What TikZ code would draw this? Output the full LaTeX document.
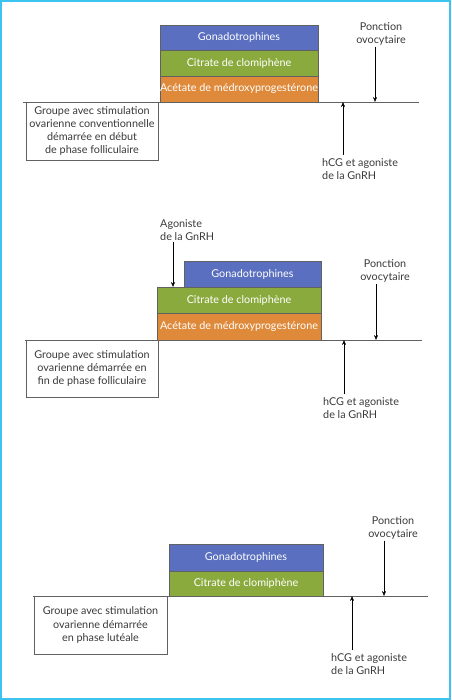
\documentclass[tikz,border=0pt]{standalone}
\usepackage{fontspec}
\setmainfont{Lato}
\usetikzlibrary{arrows.meta}
\definecolor{gonablue}{HTML}{5A6FBF}
\definecolor{clomigreen}{HTML}{8BAA3E}
\definecolor{medroorange}{HTML}{DF8A3B}
\definecolor{framecyan}{HTML}{3CC3F0}
\definecolor{inkgray}{HTML}{3A3A3A}
\begin{document}
\begin{tikzpicture}[x=1pt,y=-1pt,>={Stealth[length=5pt,width=4pt]},
  every node/.style={inner sep=1pt,text=inkgray,font=\fontsize{10.8}{13.3}\selectfont},
  drugbox/.style={draw=inkgray!80,line width=0.5pt,anchor=north west,
    text=white,inner sep=0pt,outer sep=0pt},
  groupbox/.style={draw=inkgray!80,fill=white,line width=0.6pt,align=center,
    anchor=north west,inner sep=0pt,outer sep=0pt,minimum height=58pt},
  note/.style={align=left,anchor=north west},
  timeline/.style={draw=inkgray!80,line width=0.7pt}]
  \useasboundingbox (0,0) rectangle (451,700);
  \draw[framecyan,line width=2pt] (1,1) rectangle (450,699);

  % premier groupe
  \draw[timeline] (23,102) coordinate (t1a) -- (419,102) coordinate (t1b);
  \node[drugbox,fill=gonablue,minimum width=158pt,minimum height=25pt] (gona1) at (160,25) {Gonadotrophines};
  \node[drugbox,fill=clomigreen,minimum width=158pt,minimum height=26pt] (clomi1) at (160,50) {Citrate de clomiphène};
  \node[drugbox,fill=medroorange,minimum width=158pt,minimum height=26pt] (medro1) at (160,76) {Acétate de médroxyprogestérone};
  \node[groupbox,minimum width=132pt] (grp1) at (26,102)
    {Groupe avec stimulation\\ovarienne conventionnelle\\démarrée en début\\de phase folliculaire};
  \node[align=center] (ponc1) at (381,34) {Ponction\\ovocytaire};
  \node[note] (hcg1) at (321,157) {hCG et agoniste\\de la GnRH};
  \coordinate (ponctip1) at (375,102);
  \coordinate (hcgtip1) at (343,102);
  \draw[->] (ponc1.south -| ponctip1) -- (ponctip1);
  \draw[->] (hcg1.north -| hcgtip1) ++(0,-2) -- (hcgtip1);

  % deuxieme groupe
  \draw[timeline] (25,340) coordinate (t2a) -- (422,340) coordinate (t2b);
  \node[drugbox,fill=gonablue,minimum width=137pt,minimum height=26pt] (gona2) at (184,261) {Gonadotrophines};
  \node[drugbox,fill=clomigreen,minimum width=164pt,minimum height=26pt] (clomi2) at (157,287) {Citrate de clomiphène};
  \node[drugbox,fill=medroorange,minimum width=164pt,minimum height=27pt] (medro2) at (157,313) {Acétate de médroxyprogestérone};
  \node[groupbox,minimum width=132pt,minimum height=57pt] (grp2) at (26,340)
    {Groupe avec stimulation\\ovarienne démarrée en\\fin de phase folliculaire};
  \node[note] (agon2) at (159,218) {Agoniste\\de la GnRH};
  \node[align=center] (ponc2) at (385,271) {Ponction\\ovocytaire};
  \node[note] (hcg2) at (322,396) {hCG et agoniste\\de la GnRH};
  \coordinate (agontip2) at (173,287);
  \coordinate (ponctip2) at (376,340);
  \coordinate (hcgtip2) at (344,340);
  \draw[->] (agon2.south -| agontip2) -- (agontip2);
  \draw[->] (ponc2.south -| ponctip2) -- (ponctip2);
  \draw[->] (hcg2.north -| hcgtip2) ++(0,-2) -- (hcgtip2);

  % troisieme groupe
  \draw[timeline] (33,596) coordinate (t3a) -- (428,596) coordinate (t3b);
  \node[drugbox,fill=gonablue,minimum width=154pt,minimum height=27pt] (gona3) at (169,544) {Gonadotrophines};
  \node[drugbox,fill=clomigreen,minimum width=154pt,minimum height=25pt] (clomi3) at (169,571) {Citrate de clomiphène};
  \node[groupbox,minimum width=133pt] (grp3) at (34,596)
    {Groupe avec stimulation\\ovarienne démarrée\\en phase lutéale};
  \node[align=center] (ponc3) at (393,528) {Ponction\\ovocytaire};
  \node[note] (hcg3) at (330,652) {hCG et agoniste\\de la GnRH};
  \coordinate (ponctip3) at (384,596);
  \coordinate (hcgtip3) at (352,596);
  \draw[->] (ponc3.south -| ponctip3) -- (ponctip3);
  \draw[->] (hcg3.north -| hcgtip3) ++(0,-2) -- (hcgtip3);
\end{tikzpicture}
\end{document}
